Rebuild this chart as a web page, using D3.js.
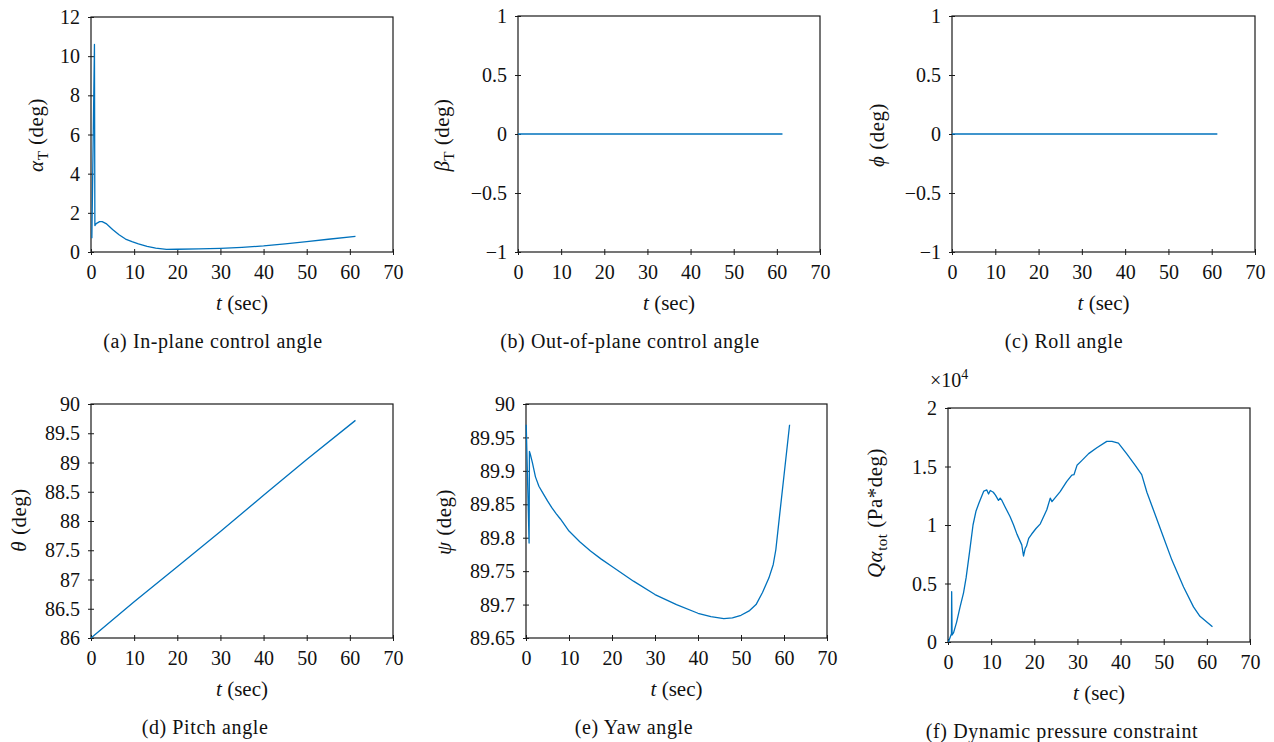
<!DOCTYPE html>
<html>
<head>
<meta charset="utf-8">
<script src="https://cdn.jsdelivr.net/npm/d3@7"></script>
<style>
  body { margin: 0; background: #fff; }
  svg, svg text { font-family: "Liberation Serif", "Times New Roman", serif; }
</style>
</head>
<body>
<svg id="fig" width="1274" height="742"></svg>
<script>
// ---- tick labels ----
const timeTicks   = [0, 10, 20, 30, 40, 50, 60, 70];
const alphaTTicks = [0, 2, 4, 6, 8, 10, 12];
const unitTicks   = [-1, -0.5, 0, 0.5, 1];
const thetaTicks  = [86, 86.5, 87, 87.5, 88, 88.5, 89, 89.5, 90];
const psiTicks    = [89.65, 89.7, 89.75, 89.8, 89.85, 89.9, 89.95, 90];
const qAlphaTicks = [0, 5000, 10000, 15000, 20000];

// ---- (a) in-plane control angle alpha_T (deg) ----
const alphaT_time = [0.2, 0.8, 0.9, 1.2, 2.0, 2.6, 3.5, 5, 6.5, 8, 9.5, 11, 13, 15, 17.5, 20, 25, 30, 35, 40, 45, 50, 55, 61.3];
const alphaT_deg  = [0.7, 10.6, 1.35, 1.45, 1.55, 1.55, 1.45, 1.15, 0.88, 0.66, 0.53, 0.42, 0.29, 0.2, 0.13, 0.14, 0.16, 0.19, 0.24, 0.31, 0.41, 0.53, 0.65, 0.8];

// ---- (b) out-of-plane control angle beta_T (deg) ----
const betaT_time = [0, 61.3];
const betaT_deg  = [0, 0];

// ---- (c) roll angle phi (deg) ----
const phi_time = [0, 61.3];
const phi_deg  = [0, 0];

// ---- (d) pitch angle theta (deg) ----
const theta_time = [0, 10, 20, 30, 40, 50, 61.3];
const theta_deg  = [86, 86.62, 87.22, 87.82, 88.44, 89.05, 89.72];

// ---- (e) yaw angle psi (deg) ----
const psi_time = [0.05, 0.72, 0.8, 1.0, 1.5, 2.2, 3, 4, 5, 6, 7, 8, 10, 12.5, 15, 17.5, 20, 25, 30, 35, 40, 43, 46, 48, 50, 52, 53.5, 55, 56.5, 57.5, 58.1, 59, 60, 61.3];
const psi_deg  = [89.969, 89.792, 89.929, 89.925, 89.912, 89.891, 89.877, 89.866, 89.855, 89.845, 89.836, 89.828, 89.81, 89.794, 89.78, 89.768, 89.757, 89.735, 89.715, 89.70, 89.687, 89.682, 89.679, 89.68, 89.684, 89.691, 89.70, 89.718, 89.74, 89.76, 89.782, 89.835, 89.893, 89.969];

// ---- (f) dynamic pressure constraint Q*alpha_tot (Pa*deg) ----
const qAlpha_time = [0.1, 0.8, 0.85, 0.95, 1.3, 2.0, 2.8, 3.6, 4.2, 5.0, 5.8, 6.5, 7.2, 8.3, 9.0, 9.4, 9.8, 10.5, 11.0, 11.7, 12.1, 12.5, 13.3, 14.4, 15.2, 16.0, 17.1, 17.5, 17.9, 18.2, 18.7, 19.4, 20.4, 21.4, 22.9, 23.7, 24.1, 26.0, 27.5, 28.7, 29.2, 29.9, 31.0, 32.6, 34.5, 36.8, 38.0, 39.5, 41.4, 43.4, 44.9, 46.1, 47.6, 49.9, 51.9, 54.6, 56.9, 58.4, 61.3];
const qAlpha_val  = [0, 700, 4300, 600, 800, 1700, 3000, 4200, 5500, 7700, 10000, 11200, 11900, 12900, 13000, 12650, 12950, 12800, 12550, 12100, 12300, 12100, 11500, 10700, 10000, 9200, 8300, 7350, 8000, 8200, 8860, 9230, 9700, 10100, 11300, 12300, 12000, 12850, 13700, 14260, 14300, 15100, 15500, 16100, 16600, 17150, 17150, 17000, 16100, 15100, 14300, 12800, 11300, 9000, 7000, 4700, 3000, 2200, 1300];

// ---- figure layout ----
const LINE_COLOR = "#0072bd";
const AXIS_COLOR = "#1a1a1a";
const TEXT_COLOR = "#111";
const SERIF = '"Liberation Serif", "Times New Roman", serif';
const TICK_FONT = 20;
const TITLE_FONT = 21;

const fmt = v => String(v).replace("-", "\u2212");

const panels = [
  { box: [91, 17, 393, 252], yDomain: [0, 12], yTicks: alphaTTicks, yFmt: fmt,
    t: alphaT_time, v: alphaT_deg, ylab: { x: 37, y: 135, parts: [["α", "i"], ["T", "sub"], [" (deg)", ""]] },
    caption: "(a) In-plane control angle", capX: 213 },
  { box: [518, 16, 820, 252], yDomain: [-1, 1], yTicks: unitTicks, yFmt: fmt,
    t: betaT_time, v: betaT_deg, ylab: { x: 443, y: 135, parts: [["β", "i"], ["T", "sub"], [" (deg)", ""]] },
    caption: "(b) Out-of-plane control angle", capX: 630 },
  { box: [952, 16, 1255, 252], yDomain: [-1, 1], yTicks: unitTicks, yFmt: fmt,
    t: phi_time, v: phi_deg, ylab: { x: 878, y: 135, parts: [["ϕ", "i"], [" (deg)", ""]] },
    caption: "(c) Roll angle", capX: 1064 },
  { box: [91, 404, 393, 638], yDomain: [86, 90], yTicks: thetaTicks, yFmt: fmt,
    t: theta_time, v: theta_deg, ylab: { x: 20, y: 520, parts: [["θ", "i"], [" (deg)", ""]] },
    caption: "(d) Pitch angle", capX: 205 },
  { box: [526, 404, 827, 638], yDomain: [89.65, 90], yTicks: psiTicks, yFmt: fmt,
    t: psi_time, v: psi_deg, ylab: { x: 445, y: 522, parts: [["ψ", "i"], [" (deg)", ""]] },
    caption: "(e) Yaw angle", capX: 634 },
  { box: [948, 408, 1250, 642], yDomain: [0, 20000], yTicks: qAlphaTicks, yFmt: v => fmt(v / 1e4),
    t: qAlpha_time, v: qAlpha_val, ylab: { x: 876, y: 513, parts: [["Qα", "i"], ["tot", "sub"], [" (Pa*deg)", ""]] },
    caption: "(f) Dynamic pressure constraint", capX: 1062, exponent: true }
];

const svg = d3.select("#fig");

panels.forEach(p => {
  const [x0, y0, x1, y1] = p.box;
  const x = d3.scaleLinear().domain([0, 70]).range([x0, x1]);
  const y = d3.scaleLinear().domain(p.yDomain).range([y1, y0]);
  const g = svg.append("g");

  // x axis
  const gx = g.append("g").attr("transform", `translate(0,${y1})`)
    .call(d3.axisBottom(x).tickValues(timeTicks).tickFormat(d => d).tickSize(3));
  gx.attr("font-family", null).attr("font-size", null);
  gx.select(".domain").remove();
  gx.selectAll("line").attr("y1", -3).attr("y2", 3).attr("stroke", AXIS_COLOR).attr("stroke-width", 1);
  gx.selectAll("text").attr("y", 27).attr("dy", null).attr("fill", TEXT_COLOR)
    .style("font-family", SERIF).style("font-size", TICK_FONT + "px");

  // y axis
  const gy = g.append("g").attr("transform", `translate(${x0},0)`)
    .call(d3.axisLeft(y).tickValues(p.yTicks).tickFormat(p.yFmt).tickSize(3).tickPadding(8));
  gy.attr("font-family", null).attr("font-size", null);
  gy.select(".domain").remove();
  gy.selectAll("line").attr("x1", -3).attr("x2", 3).attr("stroke", AXIS_COLOR).attr("stroke-width", 1);
  gy.selectAll("text").attr("dy", "0.33em").attr("fill", TEXT_COLOR)
    .style("font-family", SERIF).style("font-size", TICK_FONT + "px");

  // plot frame
  g.append("rect").attr("x", x0).attr("y", y0).attr("width", x1 - x0).attr("height", y1 - y0)
    .attr("fill", "none").attr("stroke", AXIS_COLOR).attr("stroke-width", 1.2);

  // data line
  const pts = p.t.map((t, i) => [t, p.v[i]]);
  g.append("path").datum(pts)
    .attr("d", d3.line().x(d => x(d[0])).y(d => y(d[1])))
    .attr("fill", "none").attr("stroke", LINE_COLOR).attr("stroke-width", 1.3)
    .attr("stroke-linejoin", "round");

  // x axis title
  const xt = g.append("text").attr("x", (x0 + x1) / 2).attr("y", y1 + 58)
    .attr("text-anchor", "middle").attr("font-size", TITLE_FONT).attr("fill", TEXT_COLOR);
  xt.append("tspan").attr("font-style", "italic").text("t");
  xt.append("tspan").text(" (sec)");

  // y axis title
  const yt = g.append("text")
    .attr("transform", `translate(${p.ylab.x},${p.ylab.y}) rotate(-90)`)
    .attr("text-anchor", "middle").attr("dy", "0.3em")
    .attr("font-size", TITLE_FONT).attr("fill", TEXT_COLOR)
    .attr("letter-spacing", 0.5);
  let shifted = false;
  p.ylab.parts.forEach(([txt, style]) => {
    const ts = yt.append("tspan").text(txt);
    if (style === "i") ts.attr("font-style", "italic");
    if (style === "sub") {
      ts.attr("font-size", 15).attr("dy", 5);
      shifted = true;
    } else if (shifted) {
      ts.attr("dy", -5);
      shifted = false;
    }
  });

  // scale exponent
  if (p.exponent) {
    const ex = g.append("text").attr("x", 930).attr("y", 387)
      .attr("font-size", TICK_FONT).attr("fill", TEXT_COLOR);
    ex.append("tspan").text("×10");
    ex.append("tspan").attr("font-size", 14).attr("dy", -8).text("4");
  }

  // caption
  g.append("text").attr("x", p.capX).attr("y", y1 + 96)
    .attr("text-anchor", "middle").attr("font-size", TICK_FONT).attr("fill", TEXT_COLOR)
    .attr("letter-spacing", 0.6)
    .text(p.caption);
});
</script>
</body>
</html>
